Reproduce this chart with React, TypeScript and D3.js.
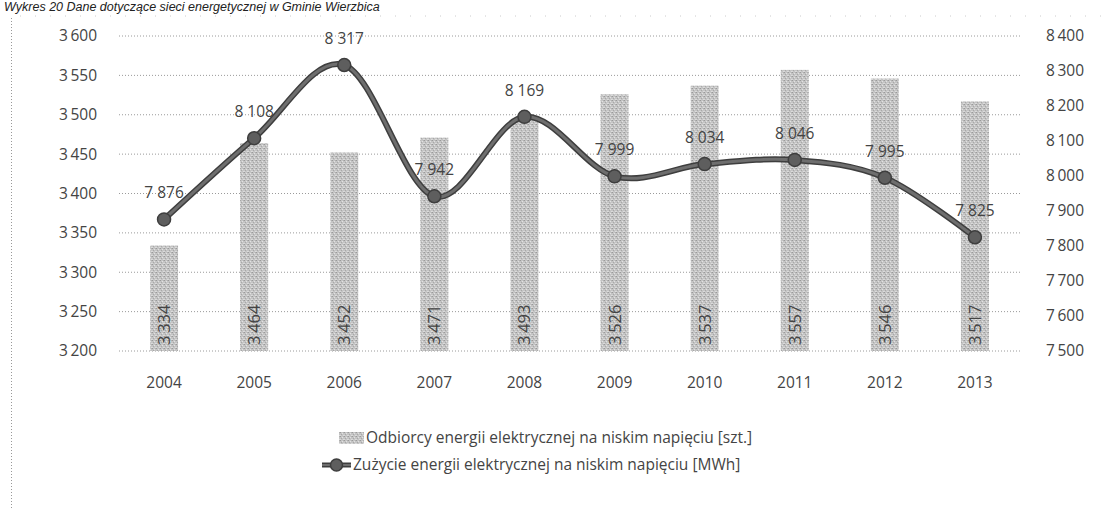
import React from "react";
import * as d3 from "d3";

const years = ["2004", "2005", "2006", "2007", "2008", "2009", "2010", "2011", "2012", "2013"];
const customers = [3334, 3464, 3452, 3471, 3493, 3526, 3537, 3557, 3546, 3517];
const consumption = [7876, 8108, 8317, 7942, 8169, 7999, 8034, 8046, 7995, 7825];
const leftTicks = [3200, 3250, 3300, 3350, 3400, 3450, 3500, 3550, 3600];
const rightTicks = [7500, 7600, 7700, 7800, 7900, 8000, 8100, 8200, 8300, 8400];
const legendBar = "Odbiorcy energii elektrycznej na niskim napięciu [szt.]";
const legendLine = "Zużycie energii elektrycznej na niskim napięciu [MWh]";
const title = "Wykres 20 Dane dotyczące sieci energetycznej w Gminie Wierzbica";

const fmt = (v: number) => {
  const s = String(v);
  return s.length > 3 ? s.slice(0, s.length - 3) + "\u2009" + s.slice(-3) : s;
};
const fmtSp = (v: number) => {
  const s = String(v);
  return s.length > 3 ? s.slice(0, s.length - 3) + " " + s.slice(-3) : s;
};

export default function App() {
  const W = 1115, H = 509;
  const plotL = 119, plotR = 1020, plotT = 36, plotB = 351;
  const x = d3.scaleBand<string>().domain(years).range([plotL, plotR]).padding(0);
  const yL = d3.scaleLinear().domain([3200, 3600]).range([plotB, plotT]);
  const yR = d3.scaleLinear().domain([7500, 8400]).range([plotB, plotT]);
  const barW = 28;
  const cx = (y: string) => (x(y) as number) + x.bandwidth() / 2;
  const line = d3
    .line<number>()
    .x((_, i) => cx(years[i]))
    .y((d) => yR(d))
    .curve(d3.curveCardinal.tension(0));
  const font = "'Open Sans', 'Liberation Sans', sans-serif";
  const txt = "#444";

  return (
    <svg width={W} height={H} style={{ position: "absolute", left: 0, top: 0, background: "#fff" }} fontFamily={font}>
      <defs>
        <pattern id="barTex" width="4" height="4" patternUnits="userSpaceOnUse">
          <rect width="4" height="4" fill="#c4c4c4" />
          <rect x="0" y="0" width="1" height="1" fill="#9a9a9a" />
          <rect x="2" y="1" width="1" height="1" fill="#e2e2e2" />
          <rect x="1" y="2" width="1" height="1" fill="#a8a8a8" />
          <rect x="3" y="3" width="1" height="1" fill="#dcdcdc" />
          <rect x="3" y="0" width="1" height="1" fill="#b0b0b0" />
          <rect x="0" y="3" width="1" height="1" fill="#d8d8d8" />
        </pattern>
      </defs>
      <text x={4} y={11} fontSize={12.5} fontStyle="italic" fill="#222" fontFamily="'Liberation Sans', sans-serif">{title}</text>
      <line x1={20} x2={1110} y1={16} y2={16} stroke="#ccc" strokeDasharray="1,14" />
      <line x1={11.5} x2={11.5} y1={18} y2={509} stroke="#999" strokeDasharray="1,2" />

      {leftTicks.map((t) => (
        <line key={"g" + t} x1={plotL} x2={plotR} y1={yL(t)} y2={yL(t)} stroke="#9a9a9a" strokeWidth={1} strokeDasharray="1,2" />
      ))}
      {leftTicks.map((t) => (
        <text key={"l" + t} x={97} y={yL(t)} dy="0.35em" textAnchor="end" fontSize={15.5} fill={txt}>{fmt(t)}</text>
      ))}
      {rightTicks.map((t) => (
        <text key={"r" + t} x={1046} y={yR(t)} dy="0.35em" textAnchor="start" fontSize={15.5} fill={txt}>{fmt(t)}</text>
      ))}
      {years.map((y) => (
        <text key={"x" + y} x={cx(y)} y={383} dy="0.35em" textAnchor="middle" fontSize={15.5} fill={txt}>{y}</text>
      ))}

      {customers.map((v, i) => (
        <rect key={"b" + i} x={cx(years[i]) - barW / 2} y={yL(v)} width={barW} height={plotB - yL(v)} fill="url(#barTex)" />
      ))}
      {customers.map((v, i) => (
        <text key={"bl" + i} transform={`translate(${cx(years[i]) + 6},${plotB - 6}) rotate(-90)`} textAnchor="start" fontSize={16.5} fill={txt}>{fmt(v)}</text>
      ))}

      <path d={line(consumption) || ""} fill="none" stroke="#3e3e3e" strokeWidth={6} strokeLinecap="round" />
      <path d={line(consumption) || ""} fill="none" stroke="#6e6e6e" strokeWidth={3} strokeLinecap="round" />
      {consumption.map((v, i) => (
        <circle key={"m" + i} cx={cx(years[i])} cy={yR(v)} r={6.5} fill="#5e5e5e" stroke="#3e3e3e" strokeWidth={1.5} />
      ))}
      {consumption.map((v, i) => (
        <text key={"ml" + i} x={cx(years[i])} y={yR(v) - 21} textAnchor="middle" fontSize={15.5} fill={txt}>{fmtSp(v)}</text>
      ))}

      <rect x={339} y={432} width={25} height={12} fill="url(#barTex)" />
      <text x={366} y={438} dy="0.35em" fontSize={15.5} fill={txt}>{legendBar}</text>
      <line x1={322} x2={351} y1={465} y2={465} stroke="#3e3e3e" strokeWidth={5} />
      <line x1={322} x2={351} y1={465} y2={465} stroke="#6e6e6e" strokeWidth={2} />
      <circle cx={336.5} cy={465} r={6} fill="#5e5e5e" stroke="#3e3e3e" strokeWidth={1.5} />
      <text x={353} y={465} dy="0.35em" fontSize={15.5} fill={txt}>{legendLine}</text>
    </svg>
  );
}
